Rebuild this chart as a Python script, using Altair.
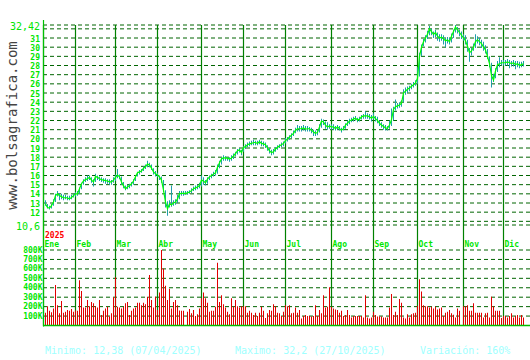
import altair as alt
import pandas as pd

# ---------------- data ----------------
months = ["Ene", "Feb", "Mar", "Abr", "May", "Jun", "Jul", "Ago", "Sep", "Oct", "Nov", "Dic"]
month_start = [0, 16, 36, 57, 79, 100, 121, 144, 165, 187, 210, 230]
year_label = ["2025"]

close_jan = [12.9, 12.5, 12.45, 12.7, 13.1, 13.8, 14.0, 13.8, 13.7, 13.55, 13.6, 13.55, 13.45, 13.6, 13.8, 14.0]
high_jan = [13.3, 12.9, 12.7, 12.9, 13.4, 14.0, 14.3, 14.1, 14.0, 13.9, 13.9, 13.8, 13.8, 13.9, 14.0, 14.2]
low_jan = [12.7, 12.4, 12.3, 12.4, 12.7, 13.1, 13.7, 13.3, 13.4, 13.3, 13.4, 13.3, 13.3, 13.4, 13.6, 13.7]
vol_jan = [135, 205, 155, 140, 180, 430, 215, 130, 260, 135, 145, 165, 155, 175, 145, 160]

close_feb = [14.0, 14.55, 15.1, 15.4, 15.55, 15.65, 15.8, 15.5, 15.3, 15.9, 15.8, 15.65, 15.55, 15.5, 15.45, 15.4, 15.3, 15.3, 15.5, 15.8]
high_feb = [14.3, 14.7, 15.2, 15.6, 15.8, 16.0, 16.0, 15.8, 15.6, 16.2, 16.0, 15.9, 15.8, 15.7, 15.7, 15.6, 15.6, 15.5, 15.8, 16.1]
low_feb = [13.8, 14.0, 14.5, 15.0, 15.3, 15.4, 15.5, 15.2, 14.8, 15.3, 15.5, 15.4, 15.3, 15.2, 15.1, 15.1, 15.0, 15.0, 15.2, 15.4]
vol_feb = [155, 480, 365, 190, 190, 270, 205, 250, 235, 205, 190, 270, 110, 155, 180, 200, 95, 130, 300, 510]

close_mar = [16.05, 15.85, 15.3, 14.9, 14.55, 14.75, 14.9, 15.1, 15.4, 15.85, 16.3, 16.4, 16.5, 16.8, 16.95, 17.25, 17.15, 16.8, 16.4, 16.2, 16.05]
high_mar = [16.7, 16.1, 15.9, 15.3, 14.9, 15.0, 15.1, 15.3, 15.6, 16.0, 16.4, 16.6, 16.7, 17.0, 17.2, 17.6, 17.4, 17.2, 16.8, 16.5, 16.3]
low_mar = [15.7, 15.6, 15.0, 14.6, 14.4, 14.5, 14.6, 14.8, 15.0, 15.4, 15.9, 16.1, 16.3, 16.5, 16.7, 16.9, 16.9, 16.6, 16.1, 15.9, 15.8]
vol_mar = [200, 190, 180, 200, 235, 250, 110, 155, 180, 190, 240, 240, 215, 240, 225, 305, 535, 270, 190, 305, 165]

close_abr = [15.85, 15.5, 14.4, 13.1, 12.38, 12.9, 12.8, 13.0, 13.1, 13.45, 14.0, 14.05, 14.05, 14.05, 14.1, 14.2, 14.35, 14.55, 14.65, 14.75, 14.9, 15.5]
high_abr = [16.0, 15.9, 15.5, 14.4, 13.2, 13.3, 14.9, 13.3, 13.4, 13.9, 14.3, 14.3, 14.3, 14.3, 14.3, 14.4, 14.6, 14.8, 14.9, 15.0, 15.2, 16.0]
low_abr = [15.5, 15.2, 14.2, 12.5, 11.6, 12.5, 12.6, 12.7, 12.8, 13.0, 13.4, 13.8, 13.8, 13.9, 13.9, 14.0, 14.1, 14.3, 14.4, 14.5, 14.6, 14.8]
vol_abr = [350, 800, 605, 420, 270, 390, 180, 250, 270, 215, 160, 155, 155, 5, 145, 175, 130, 165, 100, 120, 180, 290]

close_may = [15.4, 15.2, 15.6, 15.85, 16.0, 16.15, 16.3, 16.9, 17.4, 17.8, 17.95, 17.9, 17.9, 17.8, 17.9, 18.15, 18.4, 18.7, 18.8, 18.5, 19.05]
high_may = [15.8, 15.5, 15.8, 16.0, 16.2, 16.4, 16.6, 17.2, 17.6, 18.0, 18.2, 18.1, 18.0, 18.0, 18.2, 18.4, 18.6, 18.9, 19.0, 18.8, 19.2]
low_may = [15.0, 14.9, 15.1, 15.5, 15.7, 15.9, 16.0, 16.2, 16.8, 17.2, 17.6, 17.6, 17.6, 17.5, 17.6, 17.8, 18.1, 18.3, 18.5, 18.2, 18.6]
vol_may = [350, 290, 240, 145, 155, 155, 200, 665, 250, 320, 225, 190, 145, 120, 290, 200, 270, 205, 190, 205, 205]

close_jun = [19.15, 19.35, 19.45, 19.5, 19.6, 19.6, 19.5, 19.7, 19.5, 19.45, 19.35, 19.0, 18.7, 18.5, 18.6, 18.9, 19.05, 19.25, 19.35, 19.5, 19.8]
high_jun = [19.4, 19.6, 19.7, 19.8, 19.9, 19.8, 19.8, 19.9, 19.8, 19.7, 19.6, 19.3, 19.0, 18.8, 18.9, 19.1, 19.3, 19.4, 19.6, 19.7, 20.1]
low_jun = [18.9, 19.1, 19.2, 19.3, 19.3, 19.3, 19.3, 19.4, 19.2, 19.2, 19.0, 18.7, 18.4, 18.2, 18.3, 18.6, 18.8, 19.0, 19.1, 19.2, 19.5]
vol_jun = [205, 135, 155, 135, 110, 135, 100, 135, 200, 155, 80, 130, 165, 155, 225, 205, 135, 130, 100, 145, 215]

close_jul = [20.0, 20.2, 20.4, 20.6, 20.95, 21.1, 21.1, 21.1, 21.2, 21.05, 21.1, 21.1, 20.95, 20.75, 20.6, 20.7, 21.3, 21.95, 21.85, 21.5, 21.3, 21.4, 21.3]
high_jul = [20.2, 20.4, 20.6, 20.9, 21.2, 21.5, 21.4, 21.4, 21.5, 21.4, 21.4, 21.3, 21.2, 21.0, 20.9, 21.0, 21.6, 22.2, 22.1, 21.9, 21.8, 21.6, 21.6]
low_jul = [19.7, 19.9, 20.1, 20.3, 20.6, 20.8, 20.8, 20.8, 20.9, 20.8, 20.8, 20.8, 20.6, 20.3, 20.3, 20.4, 20.7, 21.2, 21.5, 21.1, 21.0, 21.1, 21.0]
vol_jul = [205, 215, 130, 135, 190, 135, 165, 75, 100, 110, 100, 100, 95, 100, 215, 100, 165, 130, 320, 190, 200, 405, 200]

close_ago = [21.3, 21.1, 21.3, 21.1, 20.95, 21.1, 21.5, 21.7, 21.95, 22.05, 22.15, 22.25, 22.05, 22.15, 22.4, 22.5, 22.5, 22.5, 22.4, 22.25, 22.45]
high_ago = [21.6, 21.4, 21.5, 21.4, 21.2, 21.4, 21.7, 22.0, 22.2, 22.3, 22.4, 22.5, 22.3, 22.4, 22.6, 22.7, 23.0, 22.8, 22.7, 22.6, 22.8]
low_ago = [21.0, 20.9, 21.0, 20.9, 20.7, 20.9, 21.1, 21.4, 21.6, 21.8, 21.9, 22.0, 21.8, 21.9, 22.1, 22.2, 22.2, 22.2, 22.1, 21.9, 22.1]
vol_ago = [180, 170, 165, 135, 155, 100, 110, 165, 110, 85, 100, 100, 100, 100, 100, 85, 320, 85, 75, 85, 145]

close_sep = [22.2, 22.0, 21.7, 21.5, 21.35, 21.2, 21.15, 21.5, 22.1, 23.2, 23.5, 23.6, 23.7, 23.9, 25.0, 25.2, 25.4, 25.55, 25.75, 25.9, 26.1, 26.6]
high_sep = [22.5, 22.4, 22.0, 21.8, 21.6, 21.5, 21.4, 22.0, 23.3, 23.5, 24.3, 23.9, 24.0, 24.2, 25.4, 25.6, 25.7, 25.8, 26.0, 26.2, 26.4, 27.8]
low_sep = [21.9, 21.7, 21.4, 21.2, 21.0, 20.9, 20.9, 21.1, 21.4, 22.0, 23.1, 23.3, 23.4, 23.5, 24.0, 24.8, 25.0, 25.2, 25.4, 25.6, 25.8, 26.0]
vol_sep = [110, 95, 95, 95, 85, 85, 85, 190, 335, 110, 145, 110, 280, 240, 85, 75, 120, 85, 120, 130, 135, 210]

close_oct = [29.0, 30.0, 30.6, 31.0, 31.4, 32.0, 31.7, 31.4, 31.6, 31.2, 31.0, 31.1, 30.9, 30.7, 30.8, 30.6, 31.2, 31.7, 32.2, 31.9, 31.6, 31.3, 31.0]
high_oct = [29.4, 30.3, 30.9, 31.3, 31.8, 32.3, 32.0, 31.7, 31.9, 31.6, 31.4, 31.4, 31.3, 31.0, 31.1, 31.0, 31.5, 31.9, 32.42, 32.2, 31.9, 31.7, 31.4]
low_oct = [26.8, 29.0, 30.1, 30.5, 30.9, 31.3, 31.3, 31.0, 31.1, 30.7, 30.6, 30.7, 30.3, 30.0, 30.4, 30.3, 30.5, 31.0, 31.6, 31.5, 31.2, 30.9, 30.7]
vol_oct = [490, 360, 215, 205, 205, 190, 200, 180, 200, 170, 180, 190, 100, 135, 145, 165, 130, 115, 85, 180, 155, 5, 205]

close_nov = [30.7, 30.1, 29.4, 29.6, 30.0, 30.6, 30.8, 30.6, 30.4, 30.0, 29.7, 29.0, 28.2, 26.9, 26.4, 27.4, 28.1, 28.2, 28.3, 28.3]
high_nov = [31.3, 30.8, 29.9, 29.9, 30.4, 31.4, 31.2, 31.0, 30.8, 30.6, 30.2, 29.8, 29.0, 28.3, 27.1, 27.7, 28.5, 28.9, 28.6, 28.6]
low_nov = [30.3, 29.5, 28.4, 29.1, 29.6, 29.9, 30.4, 30.2, 29.9, 29.6, 29.3, 28.7, 27.8, 25.6, 26.2, 26.6, 27.3, 27.8, 28.0, 28.0]
vol_nov = [205, 215, 155, 155, 235, 135, 135, 135, 135, 85, 130, 135, 85, 305, 205, 155, 155, 155, 80, 100]

close_dic = [28.3, 28.4, 28.3, 28.2, 28.3, 28.1, 28.2, 28.0, 28.1, 28.2]
high_dic = [28.6, 28.7, 28.6, 28.5, 28.6, 28.5, 28.5, 28.4, 28.4, 28.5]
low_dic = [28.0, 28.0, 27.7, 27.9, 27.9, 27.6, 27.8, 27.7, 27.8, 27.9]
vol_dic = [100, 85, 100, 130, 85, 100, 110, 85, 110, 85]

price_grid = [10.6] + list(range(11, 33)) + [32.42]
price_small_ticks = list(range(12, 32))
price_big_ticks = [32.42, 10.6]
price_big_labels = ["32,42", "10,6"]
vol_ticks = [100, 200, 300, 400, 500, 600, 700, 800]
vol_labels = ["100K", "200K", "300K", "400K", "500K", "600K", "700K", "800K"]
site = ["www.bolsagrafica.com"]
stats = ["Minimo: 12,38 (07/04/2025)", "Maximo: 32,2 (27/10/2025)", "Variación: 160%"]

# ---------------- tables ----------------
close = close_jan + close_feb + close_mar + close_abr + close_may + close_jun + close_jul + close_ago + close_sep + close_oct + close_nov + close_dic
high = high_jan + high_feb + high_mar + high_abr + high_may + high_jun + high_jul + high_ago + high_sep + high_oct + high_nov + high_dic
low = low_jan + low_feb + low_mar + low_abr + low_may + low_jun + low_jul + low_ago + low_sep + low_oct + low_nov + low_dic
vol = vol_jan + vol_feb + vol_mar + vol_abr + vol_may + vol_jun + vol_jul + vol_ago + vol_sep + vol_oct + vol_nov + vol_dic

days = pd.DataFrame({"i": list(range(len(close))), "close": close, "high": high, "low": low,
                     "vol": vol, "z": [0] * len(close)})
days["i0"] = days["i"] - 0.25
days["i1"] = days["i"] + 0.25
mdf = pd.DataFrame({"m": months, "start": month_start})
mdf["line"] = mdf["start"] - 1
pgrid = pd.DataFrame({"v": price_grid})
psmall = pd.DataFrame({"v": price_small_ticks, "t": [str(v) for v in price_small_ticks]})
pbig = pd.DataFrame({"v": price_big_ticks, "t": price_big_labels})
vgrid = pd.DataFrame({"v": vol_ticks, "t": vol_labels})
base_df = pd.DataFrame({"v": [0]})
one = pd.DataFrame({"t": site})
year_df = pd.DataFrame({"t": year_label, "line": [month_start[0] - 1]})
stats_df = pd.DataFrame({"t": stats})

# ---------------- scales ----------------
x_scale = alt.Scale(domain=[-1, 239], range=[0.5, 480.5], nice=False, zero=False)
p_scale = alt.Scale(domain=[10.6, 32.42], range=[225, 25], nice=False, zero=False)
v_scale = alt.Scale(domain=[0, 800], range=[325.5, 250], nice=False, zero=False)


def X(f):
    return alt.X(f"{f}:Q", scale=x_scale, axis=None)


def PY(f):
    return alt.Y(f"{f}:Q", scale=p_scale, axis=None)


def VY(f):
    return alt.Y(f"{f}:Q", scale=v_scale, axis=None)


MONO = "DejaVu Sans Mono"
LABEL_GREEN = "#00e600"
GRID = "#006400"
MONTH_LINE = "#008000"
AXIS_GREEN = "#00c000"

grid_p = alt.Chart(pgrid).mark_rule(color=GRID, strokeDash=[4, 3], strokeWidth=1).encode(y=PY("v"))
grid_v = alt.Chart(vgrid).mark_rule(color=GRID, strokeDash=[4, 3], strokeWidth=1).encode(y=VY("v"))
mlines = alt.Chart(mdf).mark_rule(color=MONTH_LINE, strokeWidth=1.2).encode(
    x=X("line"), y=alt.value(25), y2=alt.value(326))
axis_l = alt.Chart(one).mark_rule(color=AXIS_GREEN, strokeWidth=1.2).encode(
    x=alt.value(0.5), y=alt.value(20), y2=alt.value(326.5))
vbars = alt.Chart(days).mark_rect(color="#e00000").encode(
    x=X("i0"), x2=alt.X2("i1"), y=VY("vol"), y2=alt.Y2("z:Q"))
base_line = alt.Chart(base_df).mark_rule(color=AXIS_GREEN, strokeWidth=1.5).encode(y=VY("v"))
hilo = alt.Chart(days).mark_rect(color="#1f9faa").encode(
    x=X("i0"), x2=alt.X2("i1"), y=PY("low"), y2=alt.Y2("high:Q"))
cline = alt.Chart(days).mark_line(color="#00ff00", strokeWidth=1.2).encode(x=X("i"), y=PY("close"))

lab_small = alt.Chart(psmall).mark_text(font=MONO, fontSize=8, fontWeight="bold", color=LABEL_GREEN,
                                         align="right", baseline="middle", dy=1.5).encode(
    y=PY("v"), x=alt.value(-3), text="t:N")
lab_big = alt.Chart(pbig).mark_text(font=MONO, fontSize=10, color=LABEL_GREEN,
                                     align="right", baseline="middle", dy=2).encode(
    y=PY("v"), x=alt.value(-3), text="t:N")
lab_vol = alt.Chart(vgrid).mark_text(font=MONO, fontSize=8, fontWeight="bold", color=LABEL_GREEN,
                                      align="right", baseline="middle", dy=0.5).encode(
    y=VY("v"), x=alt.value(-0.5), text="t:N")
lab_month = alt.Chart(mdf).mark_text(font=MONO, fontSize=8, fontWeight="bold", color=LABEL_GREEN,
                                      align="left", baseline="middle", dx=1).encode(
    x=X("line"), y=alt.value(244.5), text="m:N")
lab_year = alt.Chart(year_df).mark_text(font=MONO, fontSize=8, fontWeight="bold", color="#ff0000",
                                         align="left", baseline="middle", dx=1.5).encode(
    x=X("line"), y=alt.value(236), text="t:N")
lab_site = alt.Chart(one).mark_text(font=MONO, fontSize=14, color="#444444", angle=270,
                                     align="center", baseline="middle").encode(
    x=alt.value(-30), y=alt.value(125.5), text="t:N")

stat_layers = []
for k, xpos in enumerate([2, 192, 377]):
    stat_layers.append(
        alt.Chart(stats_df.iloc[[k]]).mark_text(font=MONO, fontSize=10, color="#a0ffff",
                                                  align="left", baseline="middle").encode(
            x=alt.value(xpos), y=alt.value(351), text="t:N"))

chart = alt.layer(
    grid_p, grid_v, mlines, axis_l, vbars, base_line, hilo, cline,
    lab_small, lab_big, lab_vol, lab_month, lab_year, lab_site, *stat_layers
).resolve_scale(y="independent").properties(
    width=487, height=360,
    autosize=alt.AutoSizeParams(type="none"),
    padding={"left": 43, "top": 0, "right": 0, "bottom": 0},
    background="white",
).configure_view(stroke=None)

chart.save("out.html", embed_options={"renderer": "svg", "actions": False})
